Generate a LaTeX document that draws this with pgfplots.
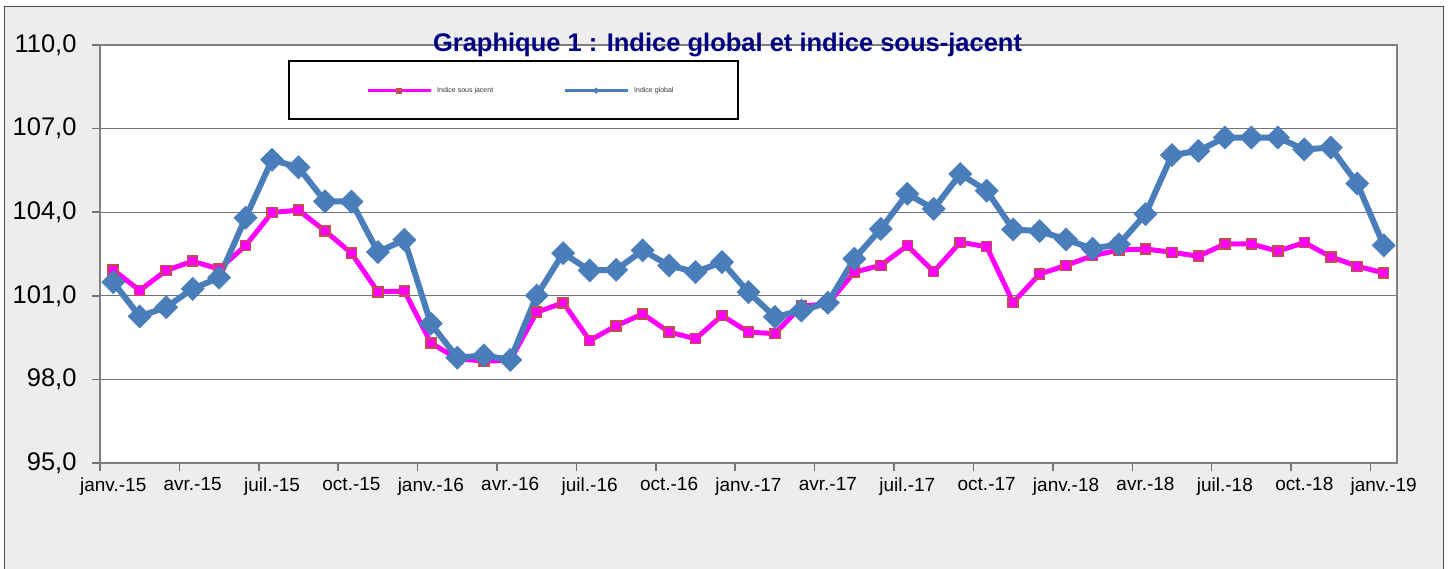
\documentclass[border=0pt]{standalone}
\usepackage{pgfplots}
\pgfplotsset{compat=1.18}
\usepackage{fontspec}
\setmainfont{Liberation Sans}
\definecolor{pinkline}{HTML}{FF00FF}
\definecolor{pinkedge}{HTML}{C0504D}
\definecolor{blueline}{HTML}{4A7EBB}
\definecolor{navytitle}{HTML}{000080}
\definecolor{bgpat}{HTML}{EDEDED}
\begin{document}
\begin{tikzpicture}[x=1pt,y=1pt]
\useasboundingbox (0,0) rectangle (1451,569);
\fill[bgpat] (4,0) rectangle (1443,562);
\draw[black!70, line width=1pt] (4,-5) -- (4,562) -- (1443,562) -- (1443,-5);
\fill[white] (100,106) rectangle (1397,524);
\draw[fill=white, line width=1.2pt] (289,450) rectangle (738,508);
\begin{axis}[
  at={(100pt,106pt)}, anchor=south west,
  width=1297pt, height=418pt, scale only axis,
  xmin=-0.5, xmax=48.5, ymin=95, ymax=110,
  ytick={95,98,101,104,107,110},
  xtick={0,3,...,48},
  xticklabels={janv.-15,avr.-15,juil.-15,oct.-15,janv.-16,avr.-16,juil.-16,oct.-16,janv.-17,avr.-17,juil.-17,oct.-17,janv.-18,avr.-18,juil.-18,oct.-18,janv.-19},
  minor xtick={-0.5,2.5,...,47.5},
  xtick pos=bottom, ytick pos=left,
  tick align=outside,
  major tick length=8pt, minor tick length=8pt,
  major x tick style={draw=none},
  minor x tick style={black!55, line width=1.5pt},
  major y tick style={black!55, line width=1.5pt},
  ymajorgrids,
  grid style={black!55, line width=1.2pt},
  axis line style={black!50, line width=2.5pt},
  /pgf/number format/.cd, fixed, fixed zerofill, precision=1, use comma, assume math mode=true,
  /pgfplots/.cd,
  yticklabel style={font=\fontsize{25.5}{30}\selectfont, xshift=-12pt},
  xticklabel style={font=\fontsize{19}{22}\selectfont, yshift=-3pt},
  legend columns=2,
  legend cell align=left,
  legend image code/.code={\draw[mark repeat=2,mark phase=2,#1] plot coordinates {(0pt,0pt) (31.5pt,0pt) (63pt,0pt)};},
  legend style={at={(rel axis cs:0.2051,0.8907)}, anchor=west, draw=none, fill=none, inner sep=0pt,
    nodes={inner sep=0pt, font=\fontsize{7}{8}\selectfont, text=black!80},
    /tikz/every odd column/.style={column sep=5pt}},
]
\addplot[pinkline, line width=5pt, mark=square*, mark size=5pt,
  mark options={solid, fill=pinkline, draw=pinkedge, line width=1.5pt},
  legend image post style={line width=3pt, mark size=2.5pt, mark options={fill=pinkedge, draw=pinkedge, line width=0.5pt}}]
coordinates {
(0,101.93) (1,101.19) (2,101.91) (3,102.24) (4,101.96) (5,102.80) (6,103.99) (7,104.07)
(8,103.33) (9,102.53) (10,101.14) (11,101.17) (12,99.31) (13,98.74) (14,98.66) (15,98.68)
(16,100.41) (17,100.75) (18,99.40) (19,99.92) (20,100.35) (21,99.70) (22,99.46) (23,100.29)
(24,99.70) (25,99.64) (26,100.63) (27,100.71) (28,101.85) (29,102.09) (30,102.80) (31,101.87)
(32,102.92) (33,102.76) (34,100.76) (35,101.78) (36,102.09) (37,102.44) (38,102.64) (39,102.68)
(40,102.56) (41,102.42) (42,102.86) (43,102.86) (44,102.60) (45,102.91) (46,102.40) (47,102.06)
(48,101.82)};
\addlegendentry{\makebox[126pt][l]{Indice sous jacent}}
\addplot[blueline, line width=6pt, mark=square*, mark size=8.2pt,
  mark options={solid, rotate=45, fill=blueline, draw=blueline, line width=0.5pt},
  legend image post style={line width=3pt, mark size=2pt}]
coordinates {
(0,101.49) (1,100.26) (2,100.59) (3,101.25) (4,101.65) (5,103.80) (6,105.88) (7,105.61)
(8,104.39) (9,104.38) (10,102.57) (11,103.01) (12,100.00) (13,98.78) (14,98.86) (15,98.70)
(16,101.01) (17,102.53) (18,101.91) (19,101.93) (20,102.63) (21,102.09) (22,101.85) (23,102.21)
(24,101.13) (25,100.24) (26,100.47) (27,100.75) (28,102.33) (29,103.40) (30,104.66) (31,104.12)
(32,105.37) (33,104.77) (34,103.38) (35,103.32) (36,103.02) (37,102.69) (38,102.85) (39,103.93)
(40,106.05) (41,106.20) (42,106.68) (43,106.68) (44,106.68) (45,106.25) (46,106.32) (47,105.03)
(48,102.81)};
\addlegendentry{Indice global}
\end{axis}
\node[font=\bfseries\fontsize{25.5}{30}\selectfont, text=navytitle, anchor=base] at (727.5,517) {Graphique 1 : Indice global et indice sous-jacent};
\end{tikzpicture}
\end{document}
